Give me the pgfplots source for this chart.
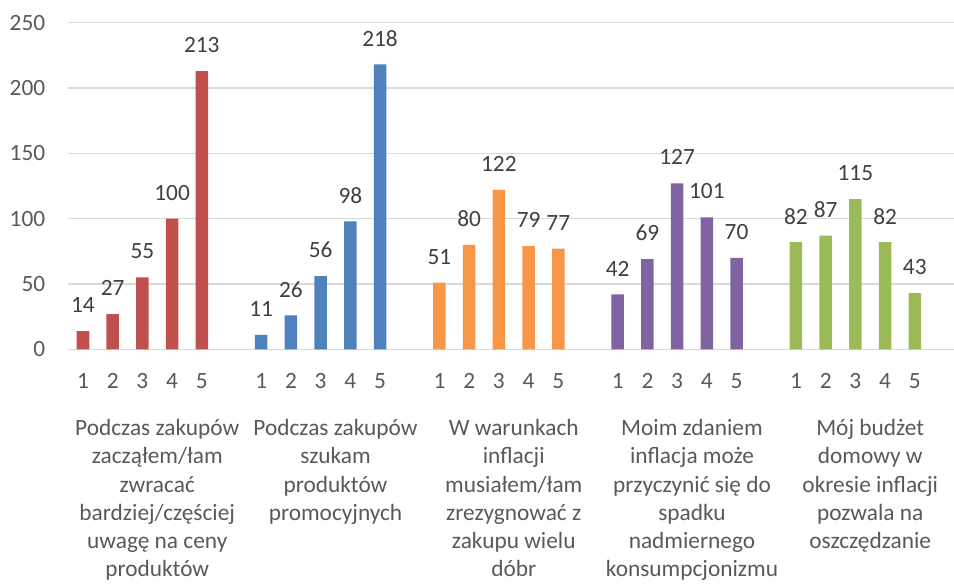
\documentclass[border=0pt]{standalone}
\usepackage{pgfplots}
\pgfplotsset{compat=1.18}
\usepackage{fontspec}
\setmainfont{Carlito}
\definecolor{cRed}{HTML}{C0504D}
\definecolor{cBlue}{HTML}{4F81BD}
\definecolor{cOrange}{HTML}{F79646}
\definecolor{cPurple}{HTML}{8064A2}
\definecolor{cGreen}{HTML}{9BBB59}
\definecolor{tickgray}{HTML}{595959}
\definecolor{labgray}{HTML}{404040}
\definecolor{gridgray}{HTML}{D9D9D9}
\begin{document}
\fontsize{17.5pt}{21.3pt}\selectfont
\begin{tikzpicture}
\begin{axis}[
  scale only axis,
  width=664.4pt, height=245pt,
  xmin=-0.5, xmax=29.32,
  ymin=0, ymax=250,
  ytick={0,50,100,150,200,250},
  xtick={0,1,2,3,4,6,7,8,9,10,12,13,14,15,16,18,19,20,21,22,24,25,26,27,28},
  xticklabels={1,2,3,4,5,1,2,3,4,5,1,2,3,4,5,1,2,3,4,5,1,2,3,4,5},
  extra x ticks={2.5,8.5,14.5,20.5,26.5},
  extra x tick labels={
    {Podczas zakupów\\[-1.1pt]zacząłem/łam\\[-1.1pt]zwracać\\[-1.1pt]bardziej/częściej\\[-1.1pt]uwagę na ceny\\[-1.1pt]produktów},
    {Podczas zakupów\\[-1.1pt]szukam\\[-1.1pt]produktów\\[-1.1pt]promocyjnych},
    {W warunkach\\[-1.1pt]inflacji\\[-1.1pt]musiałem/łam\\[-1.1pt]zrezygnować z\\[-1.1pt]zakupu wielu\\[-1.1pt]dóbr},
    {Moim zdaniem\\[-1.1pt]inflacja może\\[-1.1pt]przyczynić się do\\[-1.1pt]spadku\\[-1.1pt]nadmiernego\\[-1.1pt]konsumpcjonizmu},
    {Mój budżet\\[-1.1pt]domowy w\\[-1.1pt]okresie inflacji\\[-1.1pt]pozwala na\\[-1.1pt]oszczędzanie}},
  extra x tick style={
    major tick length=0pt,
    tick label style={anchor=north, inner sep=0pt, yshift=-34.5pt, align=center,
      font=\fontsize{17.5pt}{21.3pt}\selectfont, text=tickgray}},
  major tick length=0pt,
  axis line style={draw=none},
  ymajorgrids,
  grid style={draw=gridgray, line width=0.9pt},
  /pgf/number format/assume math mode=true,
  yticklabel style={anchor=east, inner sep=0pt, xshift=-17pt, text=tickgray,
    font=\fontsize{17.5pt}{22.2pt}\selectfont},
  xticklabel style={anchor=north, inner sep=0pt, yshift=-18pt, text=tickgray,
    font=\fontsize{17.5pt}{22.2pt}\selectfont},
  ybar, bar width=9.4pt, bar shift=0pt,
  nodes near coords,
  every node near coord/.append style={anchor=center, yshift=19.5pt, text=labgray,
    font=\fontsize{17.5pt}{22.2pt}\selectfont},
  clip=false,
]
\addplot[fill=cRed, draw=none] coordinates {(0,14) (1,27) (2,55) (3,100) (4,213)};
\addplot[fill=cBlue, draw=none] coordinates {(6,11) (7,26) (8,56) (9,98) (10,218)};
\addplot[fill=cOrange, draw=none] coordinates {(12,51) (13,80) (14,122) (15,79) (16,77)};
\addplot[fill=cPurple, draw=none] coordinates {(18,42) (19,69) (20,127) (21,101) (22,70)};
\addplot[fill=cGreen, draw=none] coordinates {(24,82) (25,87) (26,115) (27,82) (28,43)};
\end{axis}
\pgfresetboundingbox
\useasboundingbox (-51.1pt,-176pt) rectangle (664.4pt,262pt);
\end{tikzpicture}
\end{document}
